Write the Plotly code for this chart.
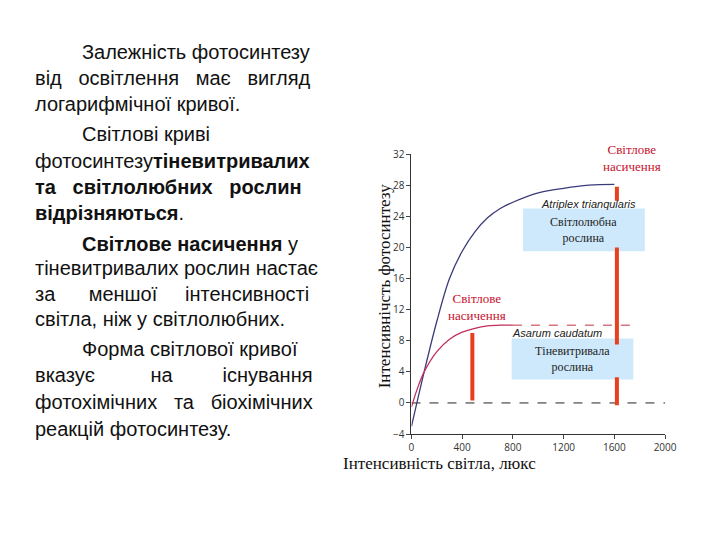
import plotly.graph_objects as go

sun_x = [0, 100, 200, 300, 400, 500, 600, 700, 800, 1000, 1200, 1400, 1600]
sun_y = [-3, 4, 10.5, 16, 19.5, 22, 23.8, 25, 25.8, 27, 27.6, 28, 28.1]
shade_x = [0, 50, 100, 200, 300, 400, 500, 600, 700, 800]
shade_y = [-0.5, 2, 4, 6.6, 8.2, 9.1, 9.6, 9.9, 10, 10]
x_ticks = [0, 400, 800, 1200, 1600, 2000]
y_ticks = [-4, 0, 4, 8, 12, 16, 20, 24, 28, 32]

fig = go.Figure()
fig.add_trace(go.Scatter(x=[0, 2000], y=[0, 0], mode="lines", line=dict(color="#222", width=1, dash="dash")))
fig.add_trace(go.Scatter(x=[800, 1750], y=[10, 10], mode="lines", line=dict(color="#c03040", width=1, dash="dash")))
fig.add_trace(go.Scatter(x=sun_x, y=sun_y, mode="lines", line=dict(color="#3a3a7a", width=1.3, shape="spline")))
fig.add_trace(go.Scatter(x=shade_x, y=shade_y, mode="lines", line=dict(color="#c0305a", width=1.3, shape="spline")))
for x0, y0, y1 in [(480, 0.3, 9), (1620, 26, 27.8), (1620, 7.5, 20), (1620, -0.3, 3.3)]:
    fig.add_trace(go.Scatter(x=[x0, x0], y=[y0, y1], mode="lines", line=dict(color="#e8401c", width=4)))

shapes = [
    dict(type="rect", x0=880, x1=1840, y0=19.5, y1=25, fillcolor="#cde9fb", line_width=0, layer="below"),
    dict(type="rect", x0=790, x1=1750, y0=3, y1=8.3, fillcolor="#cde9fb", line_width=0, layer="below"),
]

ann = []
serif = "Liberation Serif"
ann += [
    dict(x=1360, y=22.2, text="Світлолюбна<br>рослина", showarrow=False, font=dict(family=serif, size=12, color="#222")),
    dict(x=1270, y=5.6, text="Тіневитривала<br>рослина", showarrow=False, font=dict(family=serif, size=12, color="#222")),
    dict(x=1400, y=25.6, text="<i>Atriplex trianqularis</i>", showarrow=False, font=dict(family="Liberation Sans", size=11, color="#222")),
    dict(x=1150, y=9.0, text="<i>Asarum caudatum</i>", showarrow=False, font=dict(family="Liberation Sans", size=11, color="#222")),
    dict(x=1740, y=31.5, text="Світлове<br>насичення", showarrow=False, font=dict(family=serif, size=13, color="#c8102e")),
    dict(x=520, y=12.3, text="Світлове<br>насичення", showarrow=False, font=dict(family=serif, size=13, color="#c8102e")),
    dict(xref="paper", yref="paper", x=538/720, y=1-472/540, text="Інтенсивність світла, люкс", showarrow=False,
         font=dict(family=serif, size=17, color="#111")),
    dict(xref="paper", yref="paper", x=381/720, y=1-278/540, text="Інтенсивнічсть фотосинтезу", showarrow=False,
         textangle=-90, font=dict(family=serif, size=17, color="#111")),
]

lines = [
    (70, 37, "Залежність фотосинтезу"),
    (22, 64, "від&nbsp;&nbsp;&nbsp;освітлення&nbsp;&nbsp;&nbsp;має&nbsp;&nbsp;&nbsp;вигляд"),
    (22, 91, "логарифмічної кривої."),
    (70, 121, "Світлові криві"),
    (22, 149, "фотосинтезу<b>тіневитривалих</b>"),
    (22, 176, "<b>та&nbsp;&nbsp;&nbsp;світлолюбних&nbsp;&nbsp;&nbsp;рослин</b>"),
    (22, 203, "<b>відрізняються</b>."),
    (70, 234, "<b>Світлове насичення</b> у"),
    (22, 259, "тіневитривалих рослин настає"),
    (22, 286, "за&nbsp;&nbsp;&nbsp;&nbsp;&nbsp;&nbsp;меншої&nbsp;&nbsp;&nbsp;&nbsp;&nbsp;інтенсивності"),
    (22, 312, "світла, ніж у світлолюбних."),
    (70, 342, "Форма світлової кривої"),
    (22, 369, "вказує&nbsp;&nbsp;&nbsp;&nbsp;&nbsp;&nbsp;&nbsp;&nbsp;&nbsp;&nbsp;на&nbsp;&nbsp;&nbsp;&nbsp;&nbsp;&nbsp;&nbsp;&nbsp;&nbsp;існування"),
    (22, 397, "фотохімічних&nbsp;&nbsp;&nbsp;та&nbsp;&nbsp;&nbsp;біохімічних"),
    (22, 425, "реакцій фотосинтезу."),
]
for x, y, t in lines:
    ann.append(dict(xref="paper", yref="paper", x=x/720, y=1-y/540, xanchor="left", yanchor="middle",
                    text=t, showarrow=False, font=dict(family="Liberation Sans", size=20, color="#111")))

fig.update_layout(
    width=720, height=540, margin=dict(l=0, r=0, t=0, b=0),
    paper_bgcolor="white", plot_bgcolor="white", showlegend=False,
    shapes=shapes, annotations=ann,
    xaxis=dict(domain=[409/720, 668/720], range=[0, 2000], tickvals=x_ticks, showgrid=False, zeroline=False,
               showline=True, linecolor="#333", ticks="outside", ticklen=4, tickfont=dict(size=10, color="#333")),
    yaxis=dict(domain=[1-430/540, 1-142/540], range=[-4, 32], tickvals=y_ticks, showgrid=False, zeroline=False,
               showline=True, linecolor="#333", ticks="outside", ticklen=4, tickfont=dict(size=10, color="#333")),
)
fig.write_html("out.html")
